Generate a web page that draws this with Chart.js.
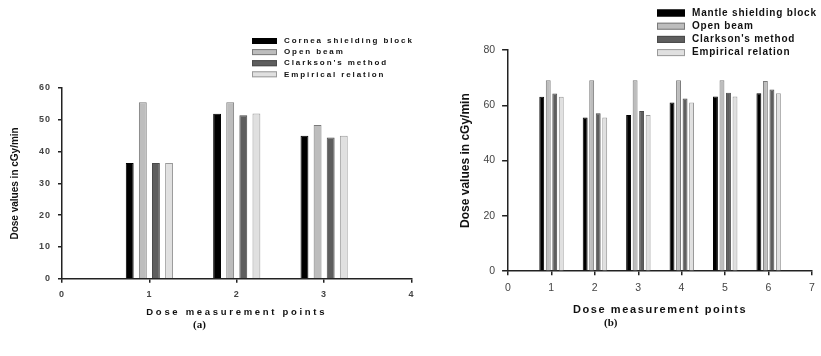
<!DOCTYPE html>
<html>
<head>
<meta charset="utf-8">
<script src="https://cdn.jsdelivr.net/npm/chart.js@4.4.1/dist/chart.umd.min.js"></script>
<style>
  html, body { margin: 0; padding: 0; background: #fff; overflow: hidden; }
  #page { position: relative; width: 821px; height: 356px; overflow: hidden; }
  canvas { position: absolute; top: 0; }
  #chartA { left: 0; }
  #chartB { left: 420px; }
  .tag { position: absolute; font: bold 11px "Liberation Serif", serif; color: #111; }
</style>
</head>
<body>
<div id="page">
  <canvas id="chartA" width="420" height="330"></canvas>
  <canvas id="chartB" width="402" height="330"></canvas>
  <div class="tag" style="left:193px; top:318px;">(a)</div>
  <div class="tag" style="left:604px; top:316px;">(b)</div>
</div>
<script>
// (a) cornea shielding
const pointsA = [1, 2, 3];
const corneaBlock = [36.4, 51.9, 45.0];
const openBeamA = [55.5, 55.5, 48.4];
const clarksonA = [36.4, 51.4, 44.4];
const empiricalA = [36.4, 52.0, 45.0];

// (b) mantle shielding
const pointsB = [1, 2, 3, 4, 5, 6];
const mantleBlock = [63.1, 55.6, 56.5, 61.0, 63.2, 64.4];
const openBeamB = [69.1, 69.1, 69.1, 69.1, 69.1, 68.8];
const clarksonB = [64.3, 57.1, 57.9, 62.5, 64.5, 65.7];
const empiricalB = [63.1, 55.6, 56.5, 61.0, 63.2, 64.4];

const xTicksA = [0, 1, 2, 3, 4];
const xTicksB = [0, 1, 2, 3, 4, 5, 6, 7];

const FONT = "'Liberation Sans', Arial, sans-serif";
const fills = ["#000000", "#bdbdbd", "#5e5e5e", "#e0e0e0"];
const edges = ["#000000", "#7a7a7a", "#4a4a4a", "#9a9a9a"];

function pairs(xs, ys) {
  return xs.map((x, i) => ({ x: x, y: ys[i] }));
}

function makeSets(xs, series, labels, barPct) {
  return series.map((s, i) => ({
    label: labels[i],
    data: pairs(xs, s),
    backgroundColor: fills[i],
    borderColor: edges[i],
    borderWidth: 1,
    categoryPercentage: 0.6,
    barPercentage: barPct
  }));
}

// legend drawn as a stacked list in the top right
const boxLegend = {
  id: "boxLegend",
  afterDraw(chart, args, o) {
    const ctx = chart.ctx;
    ctx.save();
    ctx.font = o.font;
    ctx.letterSpacing = o.spacing;
    ctx.textBaseline = "middle";
    chart.data.datasets.forEach((ds, i) => {
      const cy = o.y + i * o.rowH;
      ctx.fillStyle = ds.backgroundColor;
      ctx.fillRect(o.x, cy - o.boxH / 2, o.boxW, o.boxH);
      ctx.strokeStyle = ds.borderColor;
      ctx.lineWidth = 1;
      ctx.strokeRect(o.x + 0.5, cy - o.boxH / 2 + 0.5, o.boxW - 1, o.boxH - 1);
      ctx.fillStyle = "#111";
      ctx.fillText(ds.label, o.textX, cy);
    });
    ctx.restore();
  }
};

function spaceOut(chart, axis, part, px) {
  const scale = chart.scales[axis];
  const orig = scale[part];
  scale[part] = function (...args) {
    const prev = this.ctx.letterSpacing;
    this.ctx.letterSpacing = px;
    orig.apply(this, args);
    this.ctx.letterSpacing = prev;
  };
}

function axisOpts(min, max, step, tickFont, tickLen, tickPad, title, titlePad) {
  return {
    type: "linear",
    min: min,
    max: max,
    offset: false,
    grid: { drawOnChartArea: false, drawTicks: true, tickLength: tickLen, color: "#222", lineWidth: 1.5, offset: false },
    border: { display: true, color: "#222", width: 1.5 },
    ticks: { stepSize: step, color: "#444", font: tickFont, padding: tickPad },
    title: { display: true, text: title.text, color: "#111", font: title.font, padding: titlePad }
  };
}

const chartA = new Chart(document.getElementById("chartA"), {
  type: "bar",
  data: {
    datasets: makeSets(pointsA, [corneaBlock, openBeamA, clarksonA, empiricalA],
      ["Cornea shielding block", "Open beam", "Clarkson's method", "Empirical relation"], 0.6)
  },
  options: {
    responsive: false,
    animation: false,
    devicePixelRatio: 1,
    layout: { padding: { top: 88, left: 0, right: 3, bottom: 8 } },
    scales: {
      x: axisOpts(xTicksA[0], xTicksA[xTicksA.length - 1], 1,
        { family: FONT, size: 9, weight: "bold" }, 4, 6,
        { text: "Dose measurement points", font: { family: FONT, size: 9.5, weight: "bold" } },
        { top: 1, bottom: 4 }),
      y: axisOpts(0, 60, 10,
        { family: FONT, size: 9, weight: "bold" }, 4, 7,
        { text: "Dose values in cGy/min", font: { family: FONT, size: 10, weight: "bold" } },
        { top: 9, bottom: 13 })
    },
    plugins: {
      legend: { display: false },
      tooltip: { enabled: false },
      boxLegend: { x: 252, y: 41, rowH: 11.1, boxW: 25, boxH: 6, textX: 284,
        font: "bold 8px " + FONT, spacing: "1.9px" }
    }
  },
  plugins: [boxLegend]
});
spaceOut(chartA, "x", "drawTitle", "2.7px");
spaceOut(chartA, "x", "drawLabels", "1px");
spaceOut(chartA, "y", "drawLabels", "1px");
chartA.draw();

const chartB = new Chart(document.getElementById("chartB"), {
  type: "bar",
  data: {
    datasets: makeSets(pointsB, [mantleBlock, openBeamB, clarksonB, empiricalB],
      ["Mantle shielding block", "Open beam", "Clarkson's method", "Empirical relation"], 0.75)
  },
  options: {
    responsive: false,
    animation: false,
    devicePixelRatio: 1,
    layout: { padding: { top: 50, left: 30, right: 3, bottom: 9 } },
    scales: {
      x: axisOpts(xTicksB[0], xTicksB[xTicksB.length - 1], 1,
        { family: FONT, size: 10.5 }, 4, 7,
        { text: "Dose measurement points", font: { family: FONT, size: 11, weight: "bold" } },
        { top: 2, bottom: 4 }),
      y: axisOpts(0, 80, 20,
        { family: FONT, size: 10.5 }, 6, 7,
        { text: "Dose values in cGy/min", font: { family: FONT, size: 12, weight: "bold" } },
        { top: 8, bottom: 4 })
    },
    plugins: {
      legend: { display: false },
      tooltip: { enabled: false },
      boxLegend: { x: 237, y: 13, rowH: 13.2, boxW: 28, boxH: 7, textX: 272,
        font: "bold 10px " + FONT, spacing: "0.8px" }
    }
  },
  plugins: [boxLegend]
});
spaceOut(chartB, "x", "drawTitle", "1.6px");
spaceOut(chartB, "x", "drawLabels", "0.5px");
chartB.draw();
</script>
</body>
</html>
